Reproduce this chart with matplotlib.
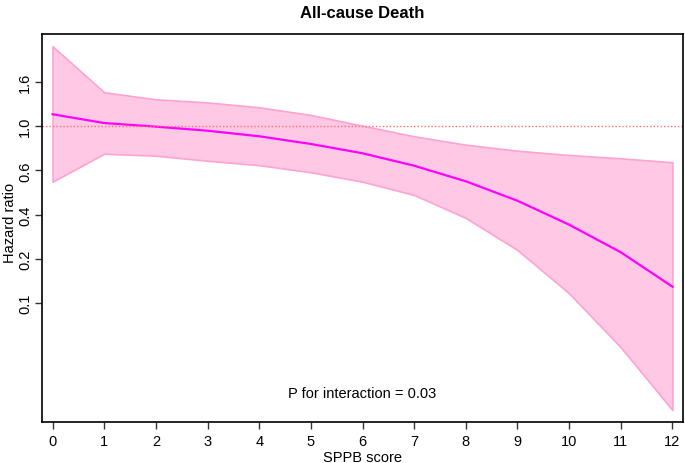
import numpy as np
import matplotlib
matplotlib.use("Agg")
import matplotlib.pyplot as plt

plt.rcParams.update({
    "font.family": "Liberation Sans",
    "font.size": 10.5,
})

# SPPB score and log(HR) estimates
sppb = [0, 1, 2, 3, 4, 5, 6, 7, 8, 9, 10, 11, 12]
log_hr = [0.136, 0.037, -0.004, -0.05, -0.113, -0.20, -0.305, -0.446, -0.622, -0.842, -1.113, -1.425, -1.814]
log_upper = [0.905, 0.385, 0.305, 0.27, 0.215, 0.128, 0.007, -0.113, -0.208, -0.276, -0.325, -0.362, -0.407]
log_lower = [-0.627, -0.31, -0.333, -0.39, -0.44, -0.52, -0.627, -0.777, -1.037, -1.40, -1.89, -2.50, -3.21]

ytick_pos = [-2, -1.5, -1, -0.5, 0, 0.5]
ytick_lab = ["0.1", "0.2", "0.4", "0.6", "1.0", "1.6"]

fig = plt.figure(figsize=(6.85, 4.64), dpi=100)
ax = fig.add_axes([0.0609, 0.0877, 0.9366, 0.8369])

ax.fill_between(sppb, log_lower, log_upper, facecolor="#FFC8E4", edgecolor="#FFA3D1", linewidth=1.2)
ax.plot(sppb, log_hr, color="#FF00FF", linewidth=1.6)
ax.axhline(0, color="#FF7070", linestyle=(0, (1, 1.5)), linewidth=1.0)

ax.text(6, -3.017, "P for interaction = 0.03", ha="center", va="center")

ax.set_xlim(-0.21, 12.21)
ax.set_ylim(-3.348, 1.044)
ax.set_xticks(sppb)
ax.set_yticks(ytick_pos)
ax.set_yticklabels(ytick_lab, rotation=90, va="center")
ax.tick_params(length=5, width=1, color="#333333")
ax.tick_params(axis="y", pad=2)
for s in ax.spines.values():
    s.set_linewidth(1.2)

ax.set_xlabel("SPPB score", labelpad=1)
ax.set_ylabel("Hazard ratio")
ax.yaxis.set_label_coords(-0.039, 0.516)
ax.set_title("All-cause Death", fontweight="bold", fontsize=12, pad=12)

fig.savefig("out.png", dpi=100)
